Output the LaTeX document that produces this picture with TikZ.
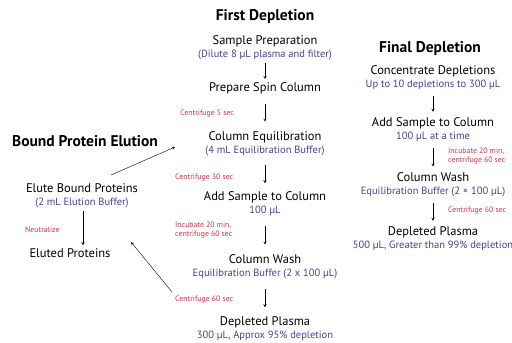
\documentclass[tikz,border=0pt]{standalone}
\usepackage{fontspec}
\setmainfont{PT Sans}
\usetikzlibrary{positioning}
\definecolor{subblue}{RGB}{72,62,150}
\definecolor{notered}{RGB}{214,48,72}
\newcommand{\subline}[1]{{\color{subblue}\fontsize{10.5}{13}\selectfont #1}}

\begin{document}
\begin{tikzpicture}[x=1pt,y=-1pt,
  head/.style={font=\fontsize{15.5}{17}\selectfont\bfseries,inner sep=0pt},
  stepbox/.style={align=center,font=\fontsize{12.5}{13}\selectfont,inner sep=1pt},
  note/.style={align=left,anchor=west,text=notered,font=\fontsize{7.8}{9}\selectfont,inner sep=0pt},
  flow/.style={->,>=stealth,thin,shorten >=#1,shorten <=#1},
  flow/.default=3pt]
\useasboundingbox (0,0) rectangle (512,343);

% first depletion
\node[head] (first) at (265,17) {First Depletion};
\node[stepbox] (prep) at (265,48) {Sample Preparation\\\subline{(Dilute 8 µL plasma and filter)}};
\node[stepbox] (spin) at (265,88) {Prepare Spin Column};
\node[stepbox] (equil) at (265,144) {Column Equilibration\\\subline{(4 mL Equilibration Buffer)}};
\node[stepbox] (add) at (265,204) {Add Sample to Column\\\subline{100 µL}};
\node[stepbox] (wash) at (265,267) {Column Wash\\\subline{Equilibration Buffer (2 x 100 µL)}};
\node[stepbox] (plasma) at (265,329) {Depleted Plasma\\\subline{300 µL, Approx 95\% depletion}};

\draw[flow=2pt] (prep) -- (spin);
\draw[flow=9pt] (spin) -- (equil);
\draw[flow=7.5pt] (equil) -- (add);
\draw[flow=9pt] (add) -- (wash);
\draw[flow=8.5pt] (wash) -- (plasma);

\node[note] (n1) at (180,114) {Centrifuge 5 sec};
\node[note] (n2) at (175,178) {Centrifuge 30 sec};
\node[note] (n3) at (175,230) {Incubate 20 min,\\centrifuge 60 sec};
\node[note] (n4) at (175,300) {Centrifuge 60 sec};

% bound protein elution
\node[head] (bound) at (85,141) {Bound Protein Elution};
\node[stepbox] (elute) at (82,196) {Elute Bound Proteins\\\subline{(2 mL Elution Buffer)}};
\node[stepbox] (eluted) at (70,253) {Eluted Proteins};
\draw[flow=2pt] (elute.south -| 83,0) -- (eluted.north -| 83,0);
\node[note] (n5) at (25,230) {Neutralize};

\coordinate (backout) at (111,175);
\coordinate (backin) at (175,147);
\draw[flow=0pt] (backout) -- (backin);
\coordinate (washout) at (172,292);
\coordinate (washin) at (131,242);
\draw[flow=0pt] (washout) -- (washin);

% final depletion
\node[head] (final) at (430,49) {Final Depletion};
\node[stepbox] (conc) at (433,78) {Concentrate Depletions\\\subline{Up to 10 depletions to 300 µL}};
\node[stepbox] (fadd) at (433,130) {Add Sample to Column\\\subline{100 µL at a time}};
\node[stepbox] (fwash) at (433,185) {Column Wash\\\subline{Equilibration Buffer (2 × 100 µL)}};
\node[stepbox] (fplasma) at (433,239) {Depleted Plasma\\\subline{500 µL, Greater than 99\% depletion}};

\draw[flow=5pt] (conc) -- (fadd);
\draw[flow=5pt] (fadd) -- (fwash);
\draw[flow=5pt] (fwash) -- (fplasma);

\node[note] (n6) at (448,156) {Incubate 20 min,\\centrifuge 60 sec};
\node[note] (n7) at (448,211) {Centrifuge 60 sec};
\end{tikzpicture}
\end{document}
